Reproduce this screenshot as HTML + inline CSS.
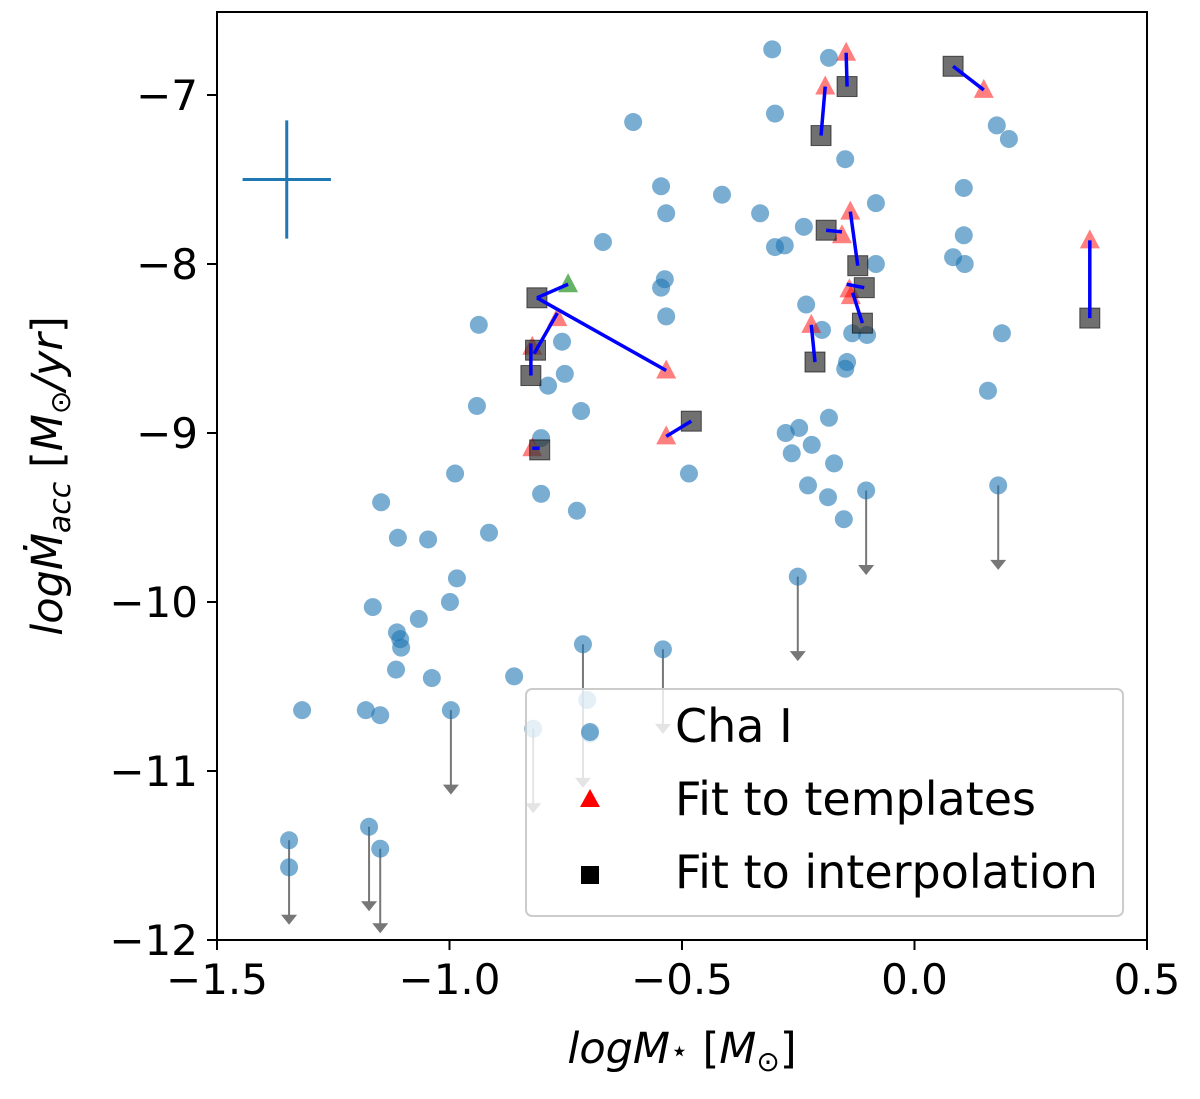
<!DOCTYPE html>
<html><head><meta charset="utf-8"><style>
body{margin:0;background:#fff}
svg text{font-family:"DejaVu Sans","Liberation Sans",sans-serif;fill:#000}
</style></head><body>
<svg id="chart" width="1200" height="1094" xmlns="http://www.w3.org/2000/svg">
<g id="marks"></g>
<rect x="217" y="12" width="930" height="928" fill="none" stroke="#000" stroke-width="2"/>
<g id="axes"></g>
<text x="682" y="1063" font-size="43" text-anchor="middle" font-style="italic">logM<tspan font-size="30" dy="-2">⋆</tspan><tspan dy="2" font-style="normal"> [</tspan>M<tspan font-size="28" dy="8" font-style="normal">⊙</tspan><tspan dy="-8" font-style="normal">]</tspan></text>
<text transform="translate(62,476) rotate(-90)" font-size="43" text-anchor="middle" font-style="italic">logṀ<tspan font-size="30" dy="8">acc</tspan><tspan dy="-8" font-style="normal"> [</tspan>M<tspan font-size="28" dy="8" font-style="normal">⊙</tspan><tspan dy="-8">/yr</tspan><tspan font-style="normal">]</tspan></text>
<g>
<rect x="526" y="689" width="597" height="227" rx="6" fill="#fff" fill-opacity="0.8" stroke="#ccc" stroke-width="2"/>
<circle cx="590" cy="732" r="9" fill="#1f77b4" fill-opacity="0.6"/>
<text x="675" y="742" font-size="46">Cha I</text>
<polygon points="590,789 600,807 580,807" fill="red"/>
<text x="675" y="815" font-size="46">Fit to templates</text>
<rect x="581" y="866" width="18" height="18" fill="#000"/>
<text x="675" y="888" font-size="46">Fit to interpolation</text>
</g>
</svg>
<script>
const xTicks=[-1.5,-1.0,-0.5,0.0,0.5];
const xTickLabels=["−1.5","−1.0","−0.5","0.0","0.5"];
const yTicks=[-12,-11,-10,-9,-8,-7];
const yTickLabels=["−12","−11","−10","−9","−8","−7"];
const chaX=[-0.306,-0.184,-0.30,-0.605,-0.149,0.177,0.203,-0.545,-0.534,-0.414,-0.332,0.106,-0.083,-0.238,0.106,-0.30,-0.279,-0.670,0.083,0.108,-0.083,-0.537,-0.545,-0.233,-0.534,-0.937,0.188,-0.134,-0.102,-0.199,-0.758,-0.145,-0.149,-0.752,-0.788,0.158,-0.941,-0.717,-0.184,-0.248,-0.277,-0.803,-0.221,-0.264,-0.485,-0.988,-0.173,-0.229,-0.186,-0.803,-0.104,0.180,-1.147,-0.726,-0.152,-0.915,-1.111,-1.046,-0.251,-0.984,-0.999,-1.165,-1.066,-1.113,-1.106,-1.104,-0.713,-0.541,-1.115,-1.038,-0.861,-1.317,-1.180,-1.149,-0.997,-0.704,-0.698,-0.820,-1.345,-1.345,-1.173,-1.149];
const chaY=[-6.73,-6.78,-7.11,-7.16,-7.38,-7.18,-7.26,-7.54,-7.70,-7.59,-7.70,-7.55,-7.64,-7.78,-7.83,-7.90,-7.89,-7.87,-7.96,-8.0,-8.0,-8.09,-8.14,-8.24,-8.31,-8.36,-8.41,-8.41,-8.42,-8.39,-8.46,-8.58,-8.62,-8.65,-8.72,-8.75,-8.84,-8.87,-8.91,-8.97,-9.0,-9.03,-9.07,-9.12,-9.24,-9.24,-9.18,-9.31,-9.38,-9.36,-9.34,-9.31,-9.41,-9.46,-9.51,-9.59,-9.62,-9.63,-9.85,-9.86,-10.0,-10.03,-10.10,-10.18,-10.22,-10.27,-10.25,-10.28,-10.40,-10.45,-10.44,-10.64,-10.64,-10.67,-10.64,-10.58,-10.78,-10.75,-11.41,-11.57,-11.33,-11.46];
const limX=[-1.345,-1.173,-1.149,-0.997,-0.820,-0.713,-0.541,-0.251,-0.104,0.180];
const limY0=[-11.41,-11.33,-11.46,-10.64,-10.75,-10.25,-10.28,-9.85,-9.34,-9.31];
const limY1=[-11.91,-11.83,-11.96,-11.14,-11.25,-11.10,-10.78,-10.35,-9.84,-9.81];
const triX=[-0.147,-0.192,0.149,-0.138,-0.156,0.377,-0.140,-0.137,-0.222,-0.534,-0.768,-0.822,-0.822,-0.534];
const triY=[-6.75,-6.95,-6.97,-7.69,-7.83,-7.86,-8.15,-8.19,-8.36,-8.63,-8.32,-8.49,-9.09,-9.02];
const sqX=[-0.145,-0.201,0.083,-0.122,-0.190,0.377,-0.108,-0.112,-0.214,-0.812,-0.815,-0.825,-0.806,-0.480];
const sqY=[-6.95,-7.24,-6.83,-8.01,-7.80,-8.32,-8.14,-8.35,-8.58,-8.20,-8.51,-8.66,-9.10,-8.93];
const lineA=[[-0.147,-6.75,-0.145,-6.95],[-0.192,-6.95,-0.201,-7.24],[0.083,-6.83,0.149,-6.97],[-0.138,-7.69,-0.122,-8.01],[-0.190,-7.80,-0.156,-7.81],[0.377,-7.86,0.377,-8.32],[-0.146,-8.12,-0.108,-8.14],[-0.133,-8.17,-0.112,-8.35],[-0.222,-8.36,-0.214,-8.58],[-0.812,-8.20,-0.745,-8.12],[-0.812,-8.20,-0.534,-8.63],[-0.768,-8.29,-0.818,-8.53],[-0.825,-8.47,-0.825,-8.66],[-0.822,-9.09,-0.806,-9.09],[-0.534,-9.02,-0.480,-8.93]];
const greenX=[-0.745], greenY=[-8.12];
const NS="http://www.w3.org/2000/svg";
const X0=217,X1=1147;
const sx=v=>X0+(v+1.5)/2*(X1-X0);
const sy=v=>940-(v+12)*169;
const marks=document.getElementById('marks'), axes=document.getElementById('axes');
function mk(tag,attrs,parent){const e=document.createElementNS(NS,tag);for(const k in attrs)e.setAttribute(k,attrs[k]);parent.appendChild(e);return e;}
xTicks.forEach((t,i)=>{const x=sx(t);
 const l=mk('line',{x1:x,x2:x,y1:940,y2:950,stroke:'#000','stroke-width':2},axes);
 
 
 const tx=mk('text',{x:x,y:994,'font-size':42,'text-anchor':'middle'},axes);tx.textContent=xTickLabels[i];
 
 });
yTicks.forEach((t,i)=>{const y=sy(t);
 const l=mk('line',{x1:207,x2:217,y1:y,y2:y,stroke:'#000','stroke-width':2},axes);
 
 
 const tx=mk('text',{x:198,y:y+15,'font-size':42,'text-anchor':'end'},axes);tx.textContent=yTickLabels[i];
 
 });
const ec=mk('g',{stroke:'#1f77b4','stroke-width':3},marks);


mk('line',{x1:sx(-1.445),x2:sx(-1.255),y1:sy(-7.5),y2:sy(-7.5)},ec);
mk('line',{x1:sx(-1.35),x2:sx(-1.35),y1:sy(-7.15),y2:sy(-7.85)},ec);
limX.forEach((v,i)=>{const g=mk('g',{},marks);
 
 
 const x=sx(v),y0=sy(limY0[i]),y1=sy(limY1[i]);
 mk('line',{x1:x,x2:x,y1:y0,y2:y1-8,stroke:'#777','stroke-width':2},g);
 mk('polygon',{points:`${x-8},${y1-10} ${x+8},${y1-10} ${x},${y1}`,fill:'#777'},g);});
chaX.forEach((v,i)=>{const c=mk('circle',{cx:sx(v),cy:sy(chaY[i]),r:9,fill:'#1f77b4','fill-opacity':0.6},marks);
 
 });
triX.forEach((v,i)=>{const x=sx(v),y=sy(triY[i]);
 const p=mk('polygon',{points:`${x},${y-11} ${x+10},${y+8} ${x-10},${y+8}`,fill:'red','fill-opacity':0.5},marks);
 
 });
greenX.forEach((v,i)=>{const x=sx(v),y=sy(greenY[i]);
 const p=mk('polygon',{points:`${x},${y-11} ${x+10},${y+8} ${x-10},${y+8}`,fill:'green','fill-opacity':0.6},marks);
 
 });
sqX.forEach((v,i)=>{const x=sx(v),y=sy(sqY[i]);
 const r=mk('rect',{x:x-10,y:y-10,width:20,height:20,fill:'#333','fill-opacity':0.7,stroke:'#000','stroke-opacity':0.6,'stroke-width':1},marks);
 
 });
lineA.forEach(a=>{const l=mk('line',{x1:sx(a[0]),y1:sy(a[1]),x2:sx(a[2]),y2:sy(a[3]),stroke:'blue','stroke-width':3.5},marks);
 
 });
</script>
</body></html>
